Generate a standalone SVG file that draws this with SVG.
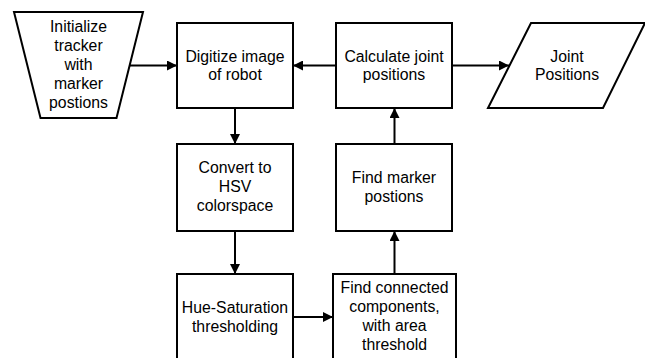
<svg xmlns="http://www.w3.org/2000/svg" width="645" height="358" viewBox="0 0 645 358">
<style>
.s{fill:#fff;stroke:#000;stroke-width:2}
.c{stroke:#000;stroke-width:2;fill:none}
text{font-family:"Liberation Sans",Arial,sans-serif;font-size:15.8px;fill:#000;text-anchor:middle}
</style>
<defs>
<marker id="ah" markerWidth="10" markerHeight="10" refX="10" refY="5" orient="auto" markerUnits="userSpaceOnUse">
<path d="M0,0 L10,5 L0,10 Z" fill="#000"/>
</marker>
</defs>
<rect width="645" height="358" fill="#fff"/>
<g id="connectors">
<line class="c" x1="128" y1="65.5" x2="177" y2="65.5" marker-end="url(#ah)"/>
<line class="c" x1="336" y1="65.5" x2="293" y2="65.5" marker-end="url(#ah)"/>
<line class="c" x1="452" y1="65.5" x2="509" y2="65.5" marker-end="url(#ah)"/>
<line class="c" x1="235" y1="108" x2="235" y2="144" marker-end="url(#ah)"/>
<line class="c" x1="235" y1="231" x2="235" y2="274" marker-end="url(#ah)"/>
<line class="c" x1="293" y1="317" x2="333" y2="317" marker-end="url(#ah)"/>
<line class="c" x1="394.5" y1="274" x2="394.5" y2="231" marker-end="url(#ah)"/>
<line class="c" x1="394.5" y1="144" x2="394.5" y2="108" marker-end="url(#ah)"/>
</g>
<g id="init">
<polygon class="s" points="14,12 143,12 116.5,118 40.5,118"/>
<text x="78.5" y="32">Initialize</text>
<text x="78.5" y="51">tracker</text>
<text x="78.5" y="70">with</text>
<text x="78.5" y="89">marker</text>
<text x="78.5" y="108">postions</text>
</g>
<g id="digitize">
<rect class="s" x="177" y="23" width="116" height="85"/>
<text x="235" y="61.5">Digitize image</text>
<text x="235" y="80">of robot</text>
</g>
<g id="calculate">
<rect class="s" x="336" y="23" width="116" height="85"/>
<text x="394" y="61.5">Calculate joint</text>
<text x="394" y="80">positions</text>
</g>
<g id="joint">
<polygon class="s" points="531,23 645,23 603,108 488,108"/>
<text x="567" y="61.5">Joint</text>
<text x="567" y="80">Positions</text>
</g>
<g id="convert">
<rect class="s" x="177" y="144" width="116" height="87"/>
<text x="235" y="173">Convert to</text>
<text x="235" y="192">HSV</text>
<text x="235" y="211">colorspace</text>
</g>
<g id="findmarker">
<rect class="s" x="336" y="144" width="116" height="87"/>
<text x="394" y="183">Find marker</text>
<text x="394" y="201.5">postions</text>
</g>
<g id="hue">
<rect class="s" x="177" y="274" width="116" height="90"/>
<text x="235" y="312.5">Hue-Saturation</text>
<text x="235" y="331.5">thresholding</text>
</g>
<g id="findconnected">
<rect class="s" x="333" y="274" width="123" height="90"/>
<text x="394.5" y="292.5">Find connected</text>
<text x="394.5" y="311.5">components,</text>
<text x="394.5" y="331">with area</text>
<text x="394.5" y="350">threshold</text>
</g>
</svg>
